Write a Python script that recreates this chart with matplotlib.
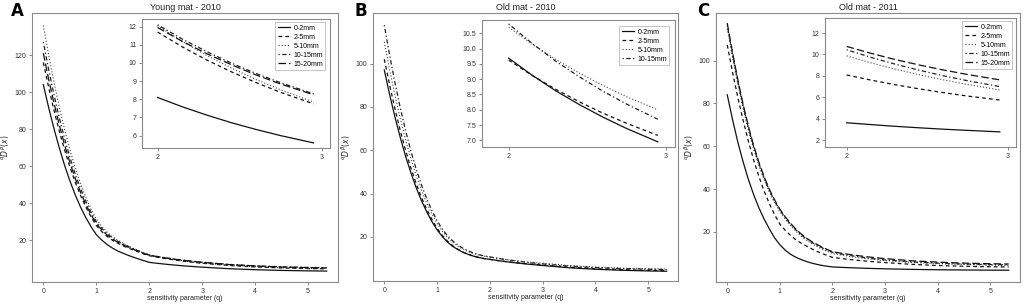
import numpy as np
import matplotlib
matplotlib.use("Agg")
import matplotlib.pyplot as plt

plt.rcParams['font.family'] = ['Liberation Sans', 'DejaVu Sans']

W, H = 1028, 305

# sensitivity parameter grid
q = [0, 0.1, 0.2, 0.3, 0.4, 0.5, 0.6, 0.7, 0.8, 0.9, 1.0,
     1.1, 1.2, 1.3, 1.4, 1.5, 1.6, 1.7, 1.8, 1.9, 2.0,
     2.15, 2.3, 2.45, 2.6, 2.75, 2.95, 3.5, 4.0, 4.5, 5.0, 5.35]

labels5 = ['0-2mm', '2-5mm', '5-10mm', '10-15mm', '15-20mm']
labels4 = ['0-2mm', '2-5mm', '5-10mm', '10-15mm']

# A - Young mat 2010
ya_0_2 = [104.0, 91.7, 80.4, 70.1, 60.6, 52.2, 44.7, 38.1, 32.4, 27.4, 23.1,
          20.2, 17.8, 15.9, 14.3, 13.1, 11.9, 10.9, 9.9, 9.0, 8.1,
          7.59, 7.13, 6.71, 6.34, 6.0, 5.6, 4.68, 4.13, 3.75, 3.51, 3.4]
ya_2_5 = [116.0, 102.7, 90.3, 79.1, 68.9, 59.7, 51.5, 44.4, 38.1, 32.7, 28.0,
          24.8, 22.2, 20.15, 18.5, 17.1, 15.9, 14.7, 13.7, 12.6, 11.7,
          10.89, 10.16, 9.51, 8.92, 8.38, 7.75, 6.43, 5.64, 5.10, 4.76, 4.6]
ya_5_10 = [136.0, 120.1, 105.5, 92.1, 80.0, 69.1, 59.4, 50.9, 43.4, 37.0, 31.4,
           27.7, 24.6, 22.1, 20.1, 18.5, 17.0, 15.6, 14.4, 13.2, 12.05,
           11.19, 10.41, 9.72, 9.09, 8.52, 7.85, 6.53, 5.74, 5.20, 4.86, 4.7]
ya_10_15 = [127.0, 112.3, 98.7, 86.3, 75.1, 65.0, 56.0, 48.1, 41.2, 35.2, 30.0,
            26.6, 23.7, 21.4, 19.6, 18.1, 16.7, 15.4, 14.3, 13.1, 12.1,
            11.32, 10.62, 9.99, 9.42, 8.91, 8.3, 7.0, 6.22, 5.70, 5.36, 5.2]
ya_15_20 = [121.0, 107.0, 94.2, 82.4, 71.7, 62.1, 53.6, 46.1, 39.5, 33.9, 29.0,
            25.7, 23.0, 20.8, 19.0, 17.6, 16.3, 15.1, 14.0, 12.9, 11.95,
            11.19, 10.51, 9.90, 9.34, 8.84, 8.25, 6.93, 6.14, 5.60, 5.26, 5.1]

# B - Old mat 2010
ob_0_2 = [97.0, 85.8, 75.5, 66.1, 57.5, 49.9, 43.0, 37.0, 31.8, 27.2, 23.3,
          20.2, 17.6, 15.6, 14.1, 12.8, 11.9, 11.1, 10.5, 10.0, 9.69,
          9.13, 8.62, 8.17, 7.76, 7.39, 6.95, 5.80, 5.11, 4.64, 4.34, 4.2]
ob_2_5 = [102.0, 90.2, 79.3, 69.3, 60.3, 52.1, 44.9, 38.5, 33.0, 28.2, 24.0,
          20.7, 18.0, 15.9, 14.25, 12.95, 11.95, 11.1, 10.45, 10.0, 9.63,
          9.12, 8.67, 8.26, 7.89, 7.56, 7.16, 6.04, 5.38, 4.93, 4.63, 4.5]
ob_5_10 = [110.0, 97.3, 85.6, 74.9, 65.1, 56.4, 48.6, 41.8, 35.8, 30.7, 26.2,
           22.6, 19.7, 17.45, 15.65, 14.3, 13.2, 12.3, 11.6, 11.1, 10.7,
           10.15, 9.65, 9.20, 8.80, 8.43, 8.0, 6.82, 6.12, 5.65, 5.34, 5.2]
ob_10_15 = [117.7, 104.0, 91.4, 79.9, 69.4, 60.0, 51.6, 44.3, 37.9, 32.3, 27.5,
            23.6, 20.5, 18.1, 16.15, 14.65, 13.5, 12.5, 11.8, 11.25, 10.81,
            10.17, 9.59, 9.08, 8.61, 8.19, 7.69, 6.56, 5.89, 5.43, 5.13, 5.0]

# C - Old mat 2011
oc_0_2 = [84.0, 72.5, 62.0, 52.8, 44.6, 37.5, 31.3, 26.0, 21.4, 17.2, 14.0,
          11.5, 9.6, 8.2, 7.1, 6.2, 5.45, 4.85, 4.35, 3.95, 3.63,
          3.46, 3.30, 3.16, 3.03, 2.92, 2.78, 2.49, 2.32, 2.21, 2.13, 2.1]
oc_2_5 = [107.3, 94.6, 82.9, 72.2, 62.5, 53.7, 46.0, 39.1, 33.2, 28.0, 23.6,
          20.8, 18.4, 16.4, 14.8, 13.45, 12.15, 10.95, 9.9, 9.0, 8.09,
          7.61, 7.18, 6.79, 6.44, 6.12, 5.75, 4.85, 4.31, 3.94, 3.71, 3.6]
oc_5_10 = [115.0, 101.5, 89.1, 77.8, 67.7, 58.8, 51.1, 44.4, 38.6, 33.6, 29.4,
           25.95, 23.0, 20.4, 18.1, 16.2, 14.6, 13.2, 12.0, 10.9, 9.87,
           9.22, 8.63, 8.11, 7.63, 7.20, 6.69, 5.73, 5.16, 4.77, 4.51, 4.4]
oc_10_15 = [116.5, 102.9, 90.4, 79.0, 68.8, 59.8, 52.0, 45.2, 39.4, 34.4, 30.2,
            26.7, 23.7, 21.05, 18.7, 16.8, 15.2, 13.8, 12.6, 11.5, 10.44,
            9.73, 9.10, 8.53, 8.01, 7.55, 7.0, 5.99, 5.39, 4.98, 4.72, 4.6]
oc_15_20 = [117.5, 103.8, 91.2, 79.7, 69.5, 60.4, 52.6, 45.8, 39.9, 34.9, 30.6,
            27.1, 24.1, 21.4, 19.1, 17.2, 15.55, 14.2, 12.9, 11.8, 10.75,
            10.11, 9.53, 9.02, 8.55, 8.13, 7.63, 6.53, 5.87, 5.42, 5.13, 5.0]

styles = [dict(ls='-', lw=0.9, color='#111111'),
          dict(ls=(0, (3, 2.5)), lw=0.9, color='#111111'),
          dict(ls=(0, (1, 1.8)), lw=0.8, color='#444444'),
          dict(ls=(0, (1, 2, 3.5, 2)), lw=0.9, color='#222222'),
          dict(ls=(0, (6, 2.5)), lw=0.9, color='#111111')]


def px_rect(l, t, r, b):
    return [l / W, 1 - b / H, (r - l) / W, (b - t) / H]


def style_axes(ax):
    for s in ax.spines.values():
        s.set_color('#8a8a8a')
        s.set_linewidth(0.8)
    ax.tick_params(direction='out', length=2.5, width=0.6, color='#777777',
                   labelsize=5, labelcolor='#333333', pad=1.5)


def draw_panel(fig, rect, irect, letter, lpos, title, series, labels, ylim, yticks,
               iylim, iyticks, ixlim, yfmt, legpos):
    x = np.array(q)
    ax = fig.add_axes(px_rect(*rect))
    for vals, st in zip(series, styles):
        ax.plot(x, vals, **st)
    ax.set_xlim(-0.214, 5.564)
    ax.set_ylim(*ylim)
    ax.set_xticks([0, 1, 2, 3, 4, 5])
    ax.set_yticks(yticks)
    style_axes(ax)
    ax.set_xlabel('sensitivity parameter (q)', fontsize=5, labelpad=0, color='#222222')
    ax.set_ylabel(r'$^{q}D^{\beta}(x)$', fontsize=5.5, labelpad=2, color='#222222')
    ax.set_title(title, fontsize=6.5, pad=2.5, color='#222222')
    fig.text(lpos[0] / W, 1 - lpos[1] / H, letter, fontsize=12, fontweight='bold',
             ha='left', va='top', family='DejaVu Sans')

    # inset zoom between q = 2 and 3
    m = (x >= 2.0) & (x <= 2.95)
    ins = fig.add_axes(px_rect(*irect))
    lines = []
    for vals, st in zip(series, styles):
        ln, = ins.plot(x[m], np.array(vals)[m], **st)
        lines.append(ln)
    ins.set_xlim(*ixlim)
    ins.set_ylim(*iylim)
    ins.set_xticks([2, 3])
    ins.set_yticks(iyticks)
    ins.set_yticklabels([yfmt.format(v) for v in iyticks])
    style_axes(ins)
    leg = ins.legend(lines, labels, loc='upper left', fontsize=5, frameon=True,
                     fancybox=False, edgecolor='#aaaaaa', borderpad=0.3,
                     handlelength=1.8, handletextpad=0.5, labelspacing=0.3,
                     bbox_to_anchor=(legpos[0] / W, 1 - legpos[1] / H),
                     bbox_transform=fig.transFigure)
    leg.get_frame().set_linewidth(0.6)


fig = plt.figure(figsize=(W / 100, H / 100), dpi=100)

draw_panel(fig, (32, 13, 338, 282), (142, 19, 330, 148), 'A', (11, 2), 'Young mat - 2010',
           [ya_0_2, ya_2_5, ya_5_10, ya_10_15, ya_15_20], labels5,
           (-2.5, 142.7), [20, 40, 60, 80, 100, 120],
           (5.32, 12.42), [6, 7, 8, 9, 10, 11, 12], (1.905, 3.05), '{:.0f}', (272, 19))

draw_panel(fig, (373, 13, 678, 281), (482, 20, 675, 147), 'B', (355, 2), 'Old mat - 2010',
           [ob_0_2, ob_2_5, ob_5_10, ob_10_15], labels4,
           (-0.3, 123.3), [20, 40, 60, 80, 100],
           (6.78, 10.94), [7.0, 7.5, 8.0, 8.5, 9.0, 9.5, 10.0, 10.5], (1.83, 3.06), '{:.1f}',
           (616, 23))

draw_panel(fig, (716, 13, 1020, 282), (825, 18, 1016, 147), 'C', (697, 2), 'Old mat - 2011',
           [oc_0_2, oc_2_5, oc_5_10, oc_10_15, oc_15_20], labels5,
           (-3.4, 122.2), [20, 40, 60, 80, 100],
           (1.37, 13.4), [2, 4, 6, 8, 10, 12], (1.866, 3.05), '{:.0f}', (959, 18))

fig.savefig('out.png', dpi=100)
